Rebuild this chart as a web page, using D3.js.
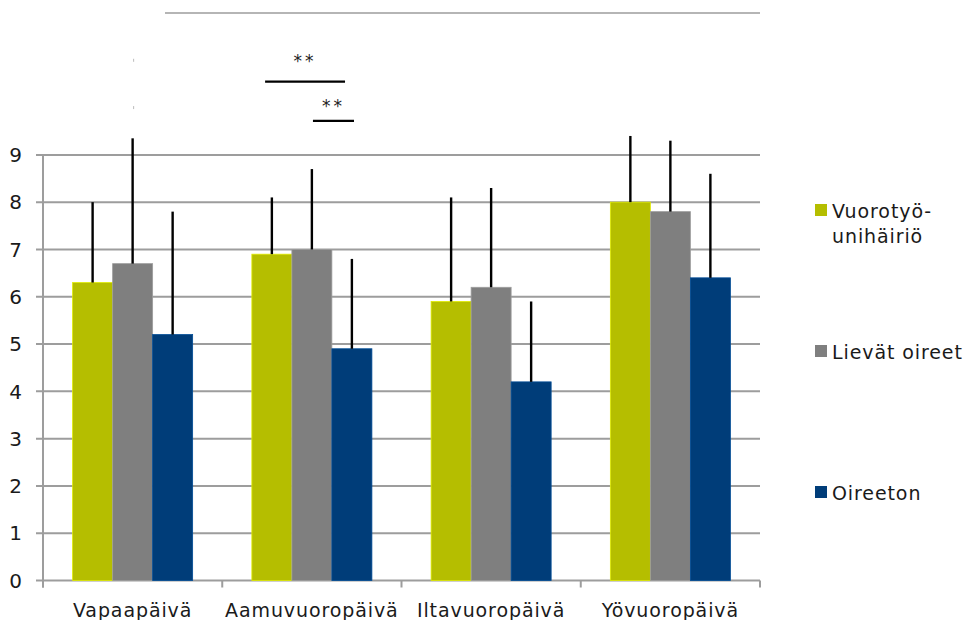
<!DOCTYPE html>
<html>
<head>
<meta charset="utf-8">
<script src="https://cdn.jsdelivr.net/npm/d3@7"></script>
<style>
  html, body { margin: 0; padding: 0; background: #fff; }
  svg { display: block; font-family: "DejaVu Sans", Verdana, sans-serif; }
</style>
</head>
<body>
<svg id="chart" width="967" height="620"></svg>
<script>
// ---- data ----
const categories = ["Vapaapäivä", "Aamuvuoropäivä", "Iltavuoropäivä", "Yövuoropäivä"];
const seriesNames = ["Vuorotyö-unihäiriö", "Lievät oireet", "Oireeton"];
const legendLabels = [["Vuorotyö-", "unihäiriö"], ["Lievät oireet"], ["Oireeton"]];
const valuesSWD = [6.3, 6.9, 5.9, 8.0];
const valuesMild = [6.7, 7.0, 6.2, 7.8];
const valuesNone = [5.2, 4.9, 4.2, 6.4];
const upperSWD = [8.0, 8.1, 8.1, 9.4];
const upperMild = [9.35, 8.7, 8.3, 9.3];
const upperNone = [7.8, 6.8, 5.9, 8.6];
const yTicks = [0, 1, 2, 3, 4, 5, 6, 7, 8, 9];
const yMax = 12;
// significance markers: category, start/end as fraction of category band, bar level, label level
const sigMarks = [
  { cat: "Aamuvuoropäivä", f0: 0.239, f1: 0.685, lineY: 10.55, textY: 10.85, text: "**" },
  { cat: "Aamuvuoropäivä", f0: 0.506, f1: 0.735, lineY: 9.72, textY: 9.9, text: "**" }
];

const colors = ["#b5be00", "#7f7f7f", "#003d79"];
const seriesValues = [valuesSWD, valuesMild, valuesNone];
const seriesUpper = [upperSWD, upperMild, upperNone];

// ---- layout ----
const svg = d3.select("#chart");
const mLeft = 43, mRight = 760, mBottom = 580.5, mTop = 13;

const y = d3.scaleLinear().domain([0, yMax]).range([mBottom, mTop]);
const x0 = d3.scaleBand().domain(categories).range([mLeft, mRight]).padding(0);
const x1 = d3.scaleBand().domain(seriesNames).range([0, x0.bandwidth()])
  .paddingInner(0).paddingOuter(0.74);

const gridColor = "#9d9d9d";

// gridlines (0..9)
svg.append("g").selectAll("line").data(yTicks).join("line")
  .attr("x1", mLeft - 7).attr("x2", mRight)
  .attr("y1", d => y(d)).attr("y2", d => y(d))
  .attr("stroke", gridColor).attr("stroke-width", 2);

// top line at max
svg.append("line")
  .attr("x1", 165).attr("x2", mRight)
  .attr("y1", y(yMax)).attr("y2", y(yMax))
  .attr("stroke", gridColor).attr("stroke-width", 1.5);

// y axis line
svg.append("line")
  .attr("x1", mLeft).attr("x2", mLeft)
  .attr("y1", y(9)).attr("y2", y(0) + 7)
  .attr("stroke", gridColor).attr("stroke-width", 2);

// y labels
svg.append("g").selectAll("text").data(yTicks).join("text")
  .attr("x", 22).attr("y", d => y(d))
  .attr("dy", "0.36em")
  .attr("text-anchor", "end")
  .attr("font-size", 20)
  .attr("fill", "#1a1a1a")
  .text(d => d);

// x axis ticks at band boundaries
const boundaries = categories.map(c => x0(c)).concat([x0(categories[categories.length - 1]) + x0.bandwidth()]);
svg.append("g").selectAll("line").data(boundaries).join("line")
  .attr("x1", d => d).attr("x2", d => d)
  .attr("y1", y(0)).attr("y2", y(0) + 7)
  .attr("stroke", gridColor).attr("stroke-width", 2);

// x labels
svg.append("g").selectAll("text").data(categories).join("text")
  .attr("x", d => x0(d) + x0.bandwidth() / 2)
  .attr("y", 616.5)
  .attr("text-anchor", "middle")
  .attr("font-size", 19)
  .attr("letter-spacing", "0.9px")
  .attr("fill", "#1a1a1a")
  .text(d => d);

// bars
const barData = [];
seriesNames.forEach((s, si) => {
  categories.forEach((c, ci) => {
    barData.push({ s, si, c, v: seriesValues[si][ci], u: seriesUpper[si][ci] });
  });
});

svg.append("g").selectAll("rect").data(barData).join("rect")
  .attr("x", d => x0(d.c) + x1(d.s))
  .attr("y", d => y(d.v))
  .attr("width", x1.bandwidth())
  .attr("height", d => y(0) - y(d.v))
  .attr("fill", d => colors[d.si])
  .attr("stroke", d => d3.color(colors[d.si]).brighter(0.6))
  .attr("stroke-width", 0.8);

// error bars (upper only, no caps)
svg.append("g").selectAll("line").data(barData).join("line")
  .attr("x1", d => x0(d.c) + x1(d.s) + x1.bandwidth() / 2)
  .attr("x2", d => x0(d.c) + x1(d.s) + x1.bandwidth() / 2)
  .attr("y1", d => y(d.v))
  .attr("y2", d => y(d.u))
  .attr("stroke", "#000").attr("stroke-width", 2.4);

// significance markers
const sig = svg.append("g");
sigMarks.forEach(m => {
  const bx = x0(m.cat), bw = x0.bandwidth();
  const xa = bx + m.f0 * bw, xb = bx + m.f1 * bw;
  sig.append("line")
    .attr("x1", xa).attr("x2", xb)
    .attr("y1", y(m.lineY)).attr("y2", y(m.lineY))
    .attr("stroke", "#000").attr("stroke-width", 2.2);
  sig.append("text")
    .attr("x", (xa + xb) / 2).attr("y", y(m.textY))
    .attr("text-anchor", "middle")
    .attr("font-size", 17)
    .attr("letter-spacing", "3px")
    .attr("fill", "#222")
    .text(m.text);
});

// tiny remnants near Vapaapäivä
svg.append("g").selectAll("line").data([11.0, 10.0]).join("line")
  .attr("x1", x0(categories[0]) + x1(seriesNames[1]) + x1.bandwidth() / 2 + 1)
  .attr("x2", x0(categories[0]) + x1(seriesNames[1]) + x1.bandwidth() / 2 + 1)
  .attr("y1", d => y(d) - 1.5).attr("y2", d => y(d) + 1.5)
  .attr("stroke", "#bbb").attr("stroke-width", 1);

// legend
const legendY = [210, 351, 492];
const lg = svg.append("g");
seriesNames.forEach((s, i) => {
  lg.append("rect")
    .attr("x", 815).attr("y", legendY[i] - 6)
    .attr("width", 12).attr("height", 12)
    .attr("fill", colors[i]);
  legendLabels[i].forEach((t, j) => {
    lg.append("text")
      .attr("x", 832).attr("y", legendY[i] + 8 + j * 25)
      .attr("font-size", 19)
      .attr("letter-spacing", "0.9px")
      .attr("fill", "#1a1a1a")
      .text(t);
  });
});
</script>
</body>
</html>
